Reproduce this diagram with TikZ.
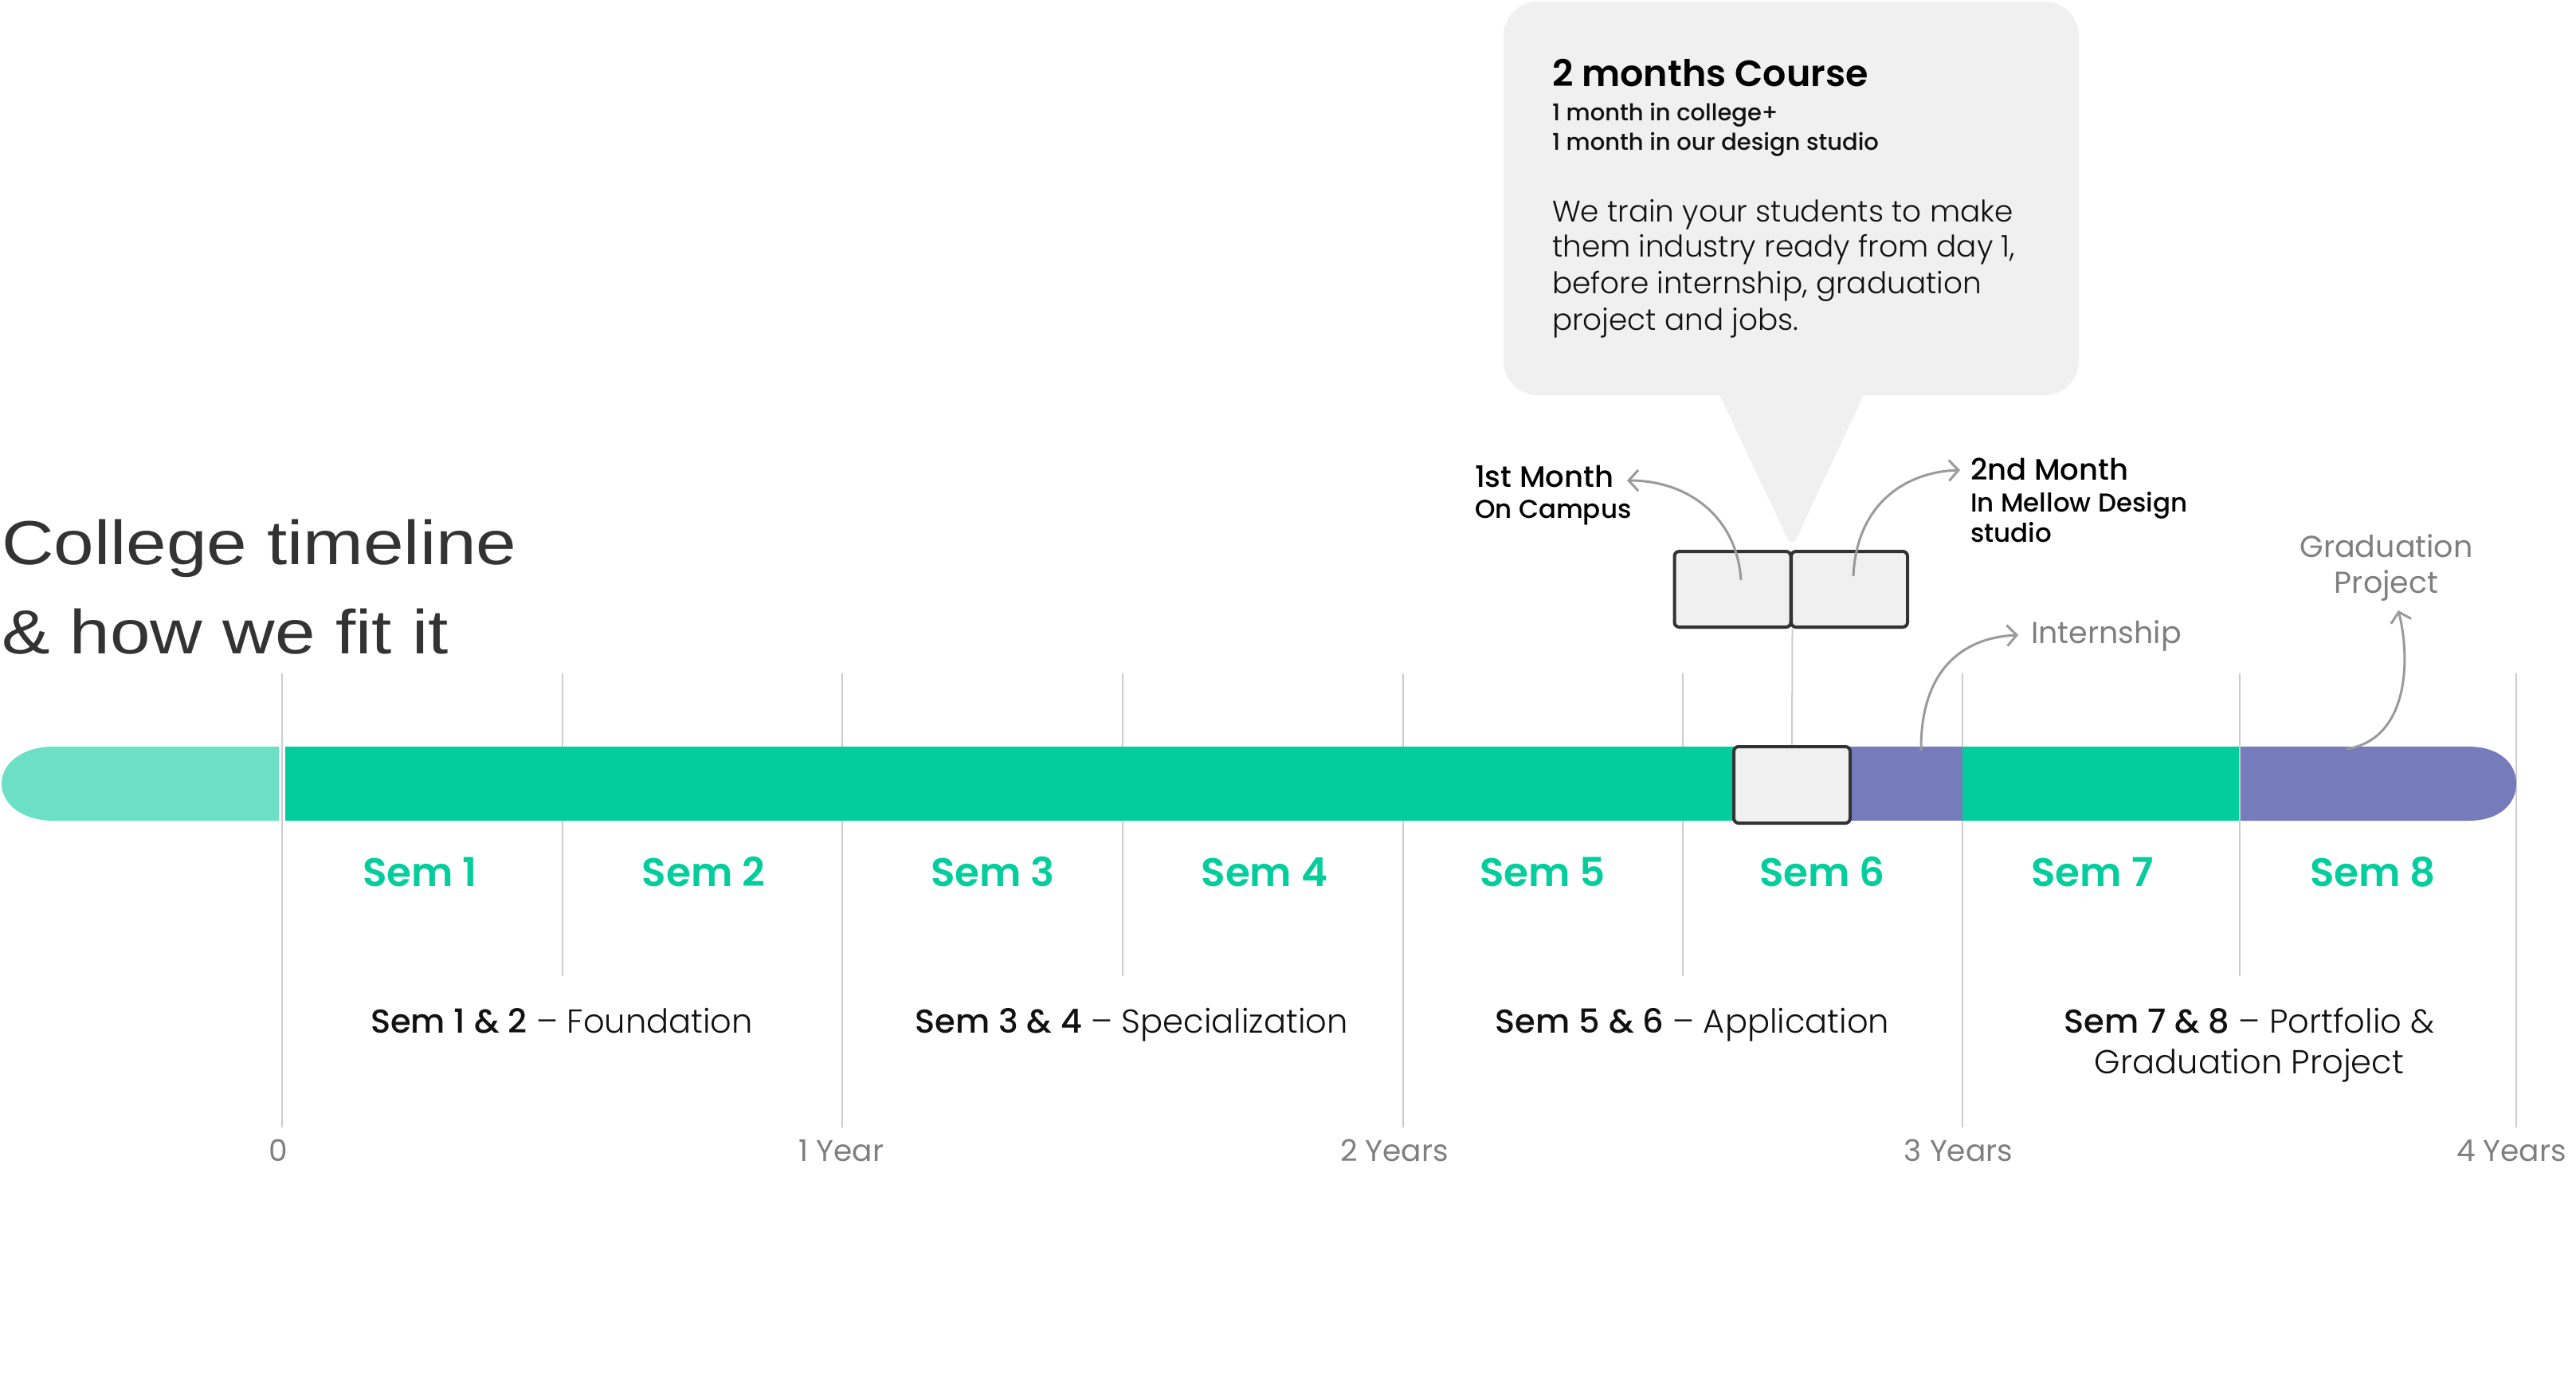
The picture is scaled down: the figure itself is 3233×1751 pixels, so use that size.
\documentclass[tikz,border=0pt]{standalone}
\usepackage{fontspec}
\setmainfont{Poppins}
\newfontfamily\popL{Poppins Light}
\newfontfamily\popM{Poppins Medium}
\newfontfamily\popSB{Poppins SemiBold}
\newfontfamily\titlefont[FakeStretch=1.165]{Liberation Sans}
\usetikzlibrary{arrows.meta}
\definecolor{cgreen}{HTML}{03CD9D}
\definecolor{clight}{HTML}{6BE0C4}
\definecolor{cpurple}{HTML}{767CBB}
\definecolor{cbox}{HTML}{F0F0F0}
\definecolor{cbord}{HTML}{333333}
\definecolor{cgrid}{HTML}{CCCCCC}
\definecolor{cyear}{HTML}{7F7F7F}
\definecolor{carrow}{HTML}{9A9A9A}
\definecolor{ctitle}{HTML}{333333}
\definecolor{ctext}{HTML}{111111}
\begin{document}
\begin{tikzpicture}[x=1pt,y=-1pt,
  txt/.style={inner sep=0pt, outer sep=0pt},
  semlbl/.style={txt, anchor=base, text=cgreen, font=\popSB\fontsize{50}{60}\selectfont},
  yearlbl/.style={txt, anchor=base, text=cyear, font=\fontsize{37.5}{44}\selectfont},
  desc/.style={txt, anchor=base, text=ctext, font=\popL\fontsize{41.6}{50}\selectfont},
  gridline/.style={draw=cgrid, line width=2.5pt},
  mbox/.style={draw=cbord, fill=cbox, line width=4pt, rounded corners=6pt, minimum width=146pt, minimum height=95pt, inner sep=0pt},
  note/.style={draw=carrow, line width=3pt, -{Straight Barb[length=12pt,width=26pt]}},
]
\useasboundingbox (0,0) rectangle (3233,1751);

% grid lines
\foreach \gx in {354,1057,1761,2463,3158} \draw[gridline] (\gx,845) -- (\gx,1415);
\foreach \gx in {706,1409,2112,2811} \draw[gridline, line width=2pt] (\gx,845) -- (\gx,1225);

% bar
\fill[clight] (350,937) -- (67,937) .. controls (28,937) and (2,958) .. (2,983.5) .. controls (2,1009) and (28,1030) .. (67,1030) -- (350,1030) -- cycle;
\fill[cgreen] (358,937) rectangle (2250,1030);
\fill[cpurple] (2250,937) rectangle (2464,1030);
\fill[cgreen] (2463,937) rectangle (2810,1030);
\fill[cpurple] (2812,937) -- (3098,937) .. controls (3137,937) and (3158,958) .. (3158,983.5) .. controls (3158,1009) and (3137,1030) .. (3098,1030) -- (2812,1030) -- cycle;

% title
\node[txt, anchor=base west, text=ctitle, font=\titlefont\fontsize{78}{90}\selectfont] (t1) at (2,708) {College timeline};
\node[txt, anchor=base west, text=ctitle, font=\titlefont\fontsize{78}{90}\selectfont] (t2) at (2,820) {\& how we fit it};

% bubble
\fill[cbox, rounded corners=43pt] (1887,2) rectangle (2609,496);
\fill[cbox, rounded corners=14pt] (2146,470) -- (2351,470) -- (2249,688) -- cycle;
\node[txt, anchor=base west, text=black, font=\popSB\fontsize{46}{56}\selectfont] (bh) at (1948,108) {2 months Course};
\node[txt, anchor=base west, text=ctext, font=\popM\fontsize{29}{36}\selectfont] (bs1) at (1948,151) {1 month in college+};
\node[txt, anchor=base west, text=ctext, font=\popM\fontsize{29}{36}\selectfont] (bs2) at (1948,188) {1 month in our design studio};
\node[txt, anchor=base west, text=ctext, font=\popL\fontsize{37.4}{46}\selectfont] (bp1) at (1948,278) {We train your students to make};
\node[txt, anchor=base west, text=ctext, font=\popL\fontsize{37.4}{46}\selectfont] (bp2) at (1948,322) {them industry ready from day 1,};
\node[txt, anchor=base west, text=ctext, font=\popL\fontsize{37.4}{46}\selectfont] (bp3) at (1948,368) {before internship, graduation};
\node[txt, anchor=base west, text=ctext, font=\popL\fontsize{37.4}{46}\selectfont] (bp4) at (1948,414) {project and jobs.};

% month boxes
\node[mbox] (m1) at (2174.5,739.5) {};
\node[mbox] (m2) at (2321,739.5) {};
\node[mbox, minimum height=96pt] (bb) at (2249,985) {};
\draw[draw=cgrid, line width=2pt] (m1.south east) -- (bb.north);

% month labels
\node[txt, anchor=base west, text=black, font=\popM\fontsize{37}{44}\selectfont] (l1a) at (1851,611) {1st Month};
\node[txt, anchor=base west, text=black, font=\popM\fontsize{32.5}{40}\selectfont] (l1b) at (1851,650) {On Campus};
\node[txt, anchor=base west, text=black, font=\popM\fontsize{37}{44}\selectfont] (l2a) at (2473,602) {2nd Month};
\node[txt, anchor=base west, text=black, font=\popM\fontsize{32.5}{40}\selectfont] (l2b) at (2473,642) {In Mellow Design};
\node[txt, anchor=base west, text=black, font=\popM\fontsize{32.5}{40}\selectfont] (l2c) at (2473,680) {studio};

% internship / graduation labels
\node[txt, anchor=base west, text=cyear, font=\fontsize{38}{44}\selectfont] (intern) at (2549,807) {Internship};
\node[txt, anchor=base, text=cyear, font=\fontsize{38}{44}\selectfont] (grad1) at (2995,699) {Graduation};
\node[txt, anchor=base, text=cyear, font=\fontsize{38}{44}\selectfont] (grad2) at (2995,744) {Project};

% arrows
\coordinate (a1s) at (2185,728); \coordinate (a1e) at (2042,603);
\coordinate (a2s) at (2326,723); \coordinate (a2e) at (2460,590);
\coordinate (a3s) at (2411,942); \coordinate (a3e) at (2533,797);
\coordinate (a4s) at (2945,940); \coordinate (a4e) at (3010,766);
\draw[note] (a1s) .. controls (2180,650) and (2120,603) .. (a1e);
\draw[note] (a2s) .. controls (2330,632) and (2392,592) .. (a2e);
\draw[note] (a3s) .. controls (2410,842) and (2462,800) .. (a3e);
\draw[note] (a4s) .. controls (3022,928) and (3026,830) .. (a4e);

% semester labels
\node[semlbl] (s1) at (527,1112) {Sem 1};
\node[semlbl] (s2) at (883,1112) {Sem 2};
\node[semlbl] (s3) at (1246,1112) {Sem 3};
\node[semlbl] (s4) at (1587,1112) {Sem 4};
\node[semlbl] (s5) at (1936,1112) {Sem 5};
\node[semlbl] (s6) at (2287,1112) {Sem 6};
\node[semlbl] (s7) at (2626,1112) {Sem 7};
\node[semlbl] (s8) at (2978,1112) {Sem 8};

% phase descriptions
\node[desc] (d1) at (705,1296) {{\popM Sem 1 \& 2} – Foundation};
\node[desc] (d2) at (1420,1296) {{\popM Sem 3 \& 4} – Specialization};
\node[desc] (d3) at (2124,1296) {{\popM Sem 5 \& 6} – Application};
\node[desc] (d4a) at (2823,1296) {{\popM Sem 7 \& 8} – Portfolio \&};
\node[desc] (d4b) at (2823,1347) {Graduation Project};

% years
\node[yearlbl] (y0) at (349,1457) {0};
\node[yearlbl] (y1) at (1056,1457) {1 Year};
\node[yearlbl] (y2) at (1750,1457) {2 Years};
\node[yearlbl] (y3) at (2458,1457) {3 Years};
\node[yearlbl] (y4) at (3152,1457) {4 Years};
\end{tikzpicture}
\end{document}
